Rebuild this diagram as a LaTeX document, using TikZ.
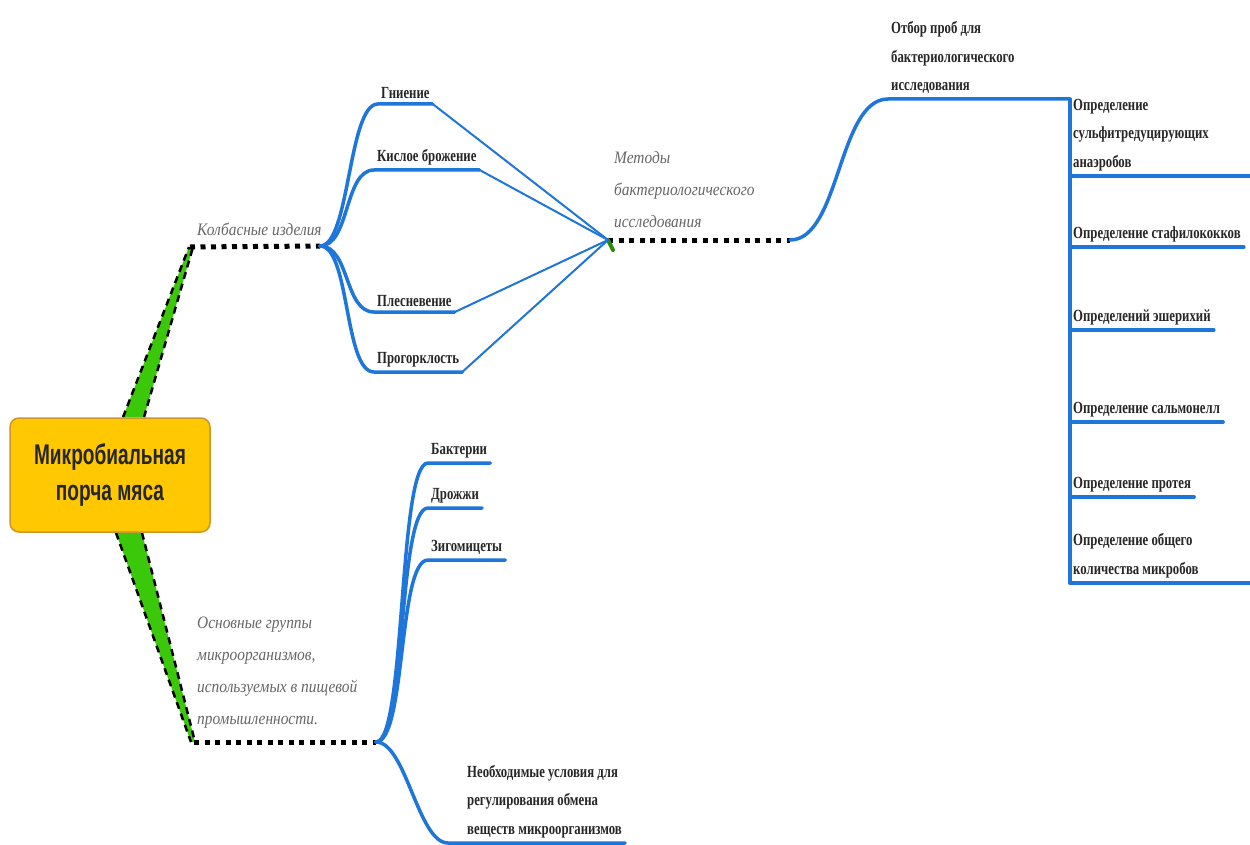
\documentclass[tikz,border=0pt]{standalone}
\usepackage{fontspec}
\setmainfont{Liberation Serif}
\newfontfamily\leaffont[FakeStretch=0.75]{Liberation Serif}
\newfontfamily\notefont[FakeStretch=0.88]{Liberation Serif}
\newfontfamily\rootfont[FakeStretch=0.67]{Liberation Sans}
\usetikzlibrary{backgrounds}
\definecolor{mapblue}{RGB}{30,118,218}
\definecolor{mapgreen}{RGB}{60,200,10}
\definecolor{rootfill}{RGB}{255,200,0}
\definecolor{rootline}{RGB}{205,150,40}
\tikzset{
  branch/.style={mapblue, line width=3.5pt, line cap=round},
  spoke/.style={mapblue, line width=2pt},
  dotline/.style={black, line width=5pt, dash pattern=on 5pt off 5.5pt},
  greenedge/.style={black, line width=2.5pt, dash pattern=on 7pt off 5pt},
  leaf/.style={anchor=south west, inner xsep=3pt, inner ysep=5pt, align=left,
    text=black!85, font=\leaffont\bfseries\fontsize{17}{28.5}\selectfont},
  note/.style={anchor=south west, inner sep=2pt, align=left,
    text=black!60, font=\notefont\itshape\fontsize{17.5}{32}\selectfont},
}

\begin{document}
\begin{tikzpicture}[x=1pt,y=-1pt]
  \useasboundingbox (0,0) rectangle (1250,845);

  % central topic
  \node[draw=rootline, fill=rootfill, line width=1.5pt, rounded corners=9pt,
    minimum width=200pt, minimum height=114pt, align=center, text=black!85,
    font=\rootfont\bfseries\fontsize{28.5}{36}\selectfont] (root) at (110,475)
    {Микробиальная\\порча мяса};

  % junctions
  \coordinate (kbTip) at (190,247);
  \coordinate (kb) at (320,246);
  \coordinate (met) at (608,240);
  \coordinate (otb) at (790,240);
  \coordinate (grTip) at (194,742);
  \coordinate (gr) at (376,742);

  % green main branches
  \begin{scope}[on background layer]
    \fill[mapgreen] ([xshift=13pt]root.north) -- ([xshift=34pt]root.north)
      -- ([xshift=3pt]kbTip) -- ([xshift=-1pt]kbTip) -- cycle;
    \draw[greenedge] ([xshift=13pt]root.north) -- ([xshift=-1pt]kbTip);
    \draw[greenedge] ([xshift=34pt]root.north) -- ([xshift=3pt]kbTip);
    \fill[mapgreen] ([xshift=6pt]root.south) -- ([xshift=32pt]root.south)
      -- ([xshift=1pt]grTip) -- ([xshift=-3pt]grTip) -- cycle;
    \draw[greenedge] ([xshift=6pt]root.south) -- ([xshift=-3pt]grTip);
    \draw[greenedge] ([xshift=32pt]root.south) -- ([xshift=1pt]grTip);
  \end{scope}

  \draw[dotline] (kbTip) -- (kb);
  \draw[dotline] (met) -- (otb);
  \draw[dotline] (grTip) -- (gr);
  \draw[mapgreen!70!black, line width=4pt, line cap=round] (met) -- +(5,10);

  % italic labels
  \node[note] (kbl) at (195,238) {Колбасные изделия};
  \node[note] (metl) at (612,230) {Методы\\бактериологического\\исследования};
  \node[note] (grl) at (195,730) {Основные группы\\микроорганизмов,\\используемых в пищевой\\промышленности.};

  % sausage spoilage
  \node[leaf] (gn) at (378,104) {Гниение};
  \node[leaf] (ks) at (374,170) {Кислое брожение};
  \node[leaf] (pl) at (374,312) {Плесневение};
  \node[leaf] (pg) at (374,372) {Прогорклость};
  \foreach \n in {gn,ks,pl,pg} {
    \draw[branch] (kb) .. controls +(30,0) and +(-30,0) .. (\n.south west) -- (\n.south east);
    \draw[spoke] (\n.south east) -- (met);
  }

  % sampling
  \node[leaf] (ob) at (888,99) {Отбор проб для\\бактериологического\\исследования};
  \draw[branch] (otb) .. controls +(50,0) and +(-50,0) .. (ob.south west)
    -- ++(182,0) coordinate (obEnd);

  \node[leaf] (sf) at (obEnd |- 0,176) {Определение\\сульфитредуцирующих\\анаэробов};
  \node[leaf] (st) at (obEnd |- 0,247) {Определение стафилококков};
  \node[leaf] (es) at (obEnd |- 0,330) {Определений эшерихий};
  \node[leaf] (sm) at (obEnd |- 0,422) {Определение сальмонелл};
  \node[leaf] (pt) at (obEnd |- 0,497) {Определение протея};
  \node[leaf] (ok) at (obEnd |- 0,583) {Определение общего\\количества микробов};
  \draw[branch] (obEnd) -- (ok.south west);
  \foreach \n in {st,es,sm,pt}
    \draw[branch] (\n.south west) -- (\n.south east);
  \foreach \n in {sf,ok}
    \draw[branch] (\n.south west) -- ++(182,0);

  % microorganism groups
  \node[leaf] (bk) at (428,463) {Бактерии};
  \node[leaf] (dr) at (428,508) {Дрожжи};
  \node[leaf] (zg) at (428,560) {Зигомицеты};
  \node[leaf] (nu) at (448,843) {\hspace{16pt}Необходимые условия для\\\hspace{16pt}регулирования обмена\\\hspace{16pt}веществ микроорганизмов};
  \foreach \n in {bk,dr,zg,nu}
    \draw[branch] (gr) .. controls +(30,0) and +(-30,0) .. (\n.south west) -- (\n.south east);
\end{tikzpicture}
\end{document}
